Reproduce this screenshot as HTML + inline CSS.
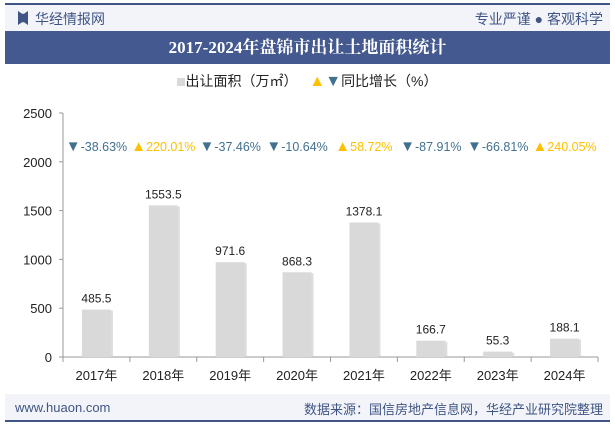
<!DOCTYPE html>
<html><head><meta charset="utf-8"><style>
body{margin:0;width:615px;height:427px;background:#fff;font-family:"Liberation Sans","Noto Sans CJK SC",sans-serif;overflow:hidden;position:relative}
.abs{position:absolute}
</style></head><body>
<div class="abs" style="left:5px;top:3px;width:605px;height:2px;background:#3f5585"></div>
<div class="abs" style="left:5px;top:5px;width:605px;height:26px;background:#f2f4f9"></div>
<div class="abs" style="left:18px;top:11px;width:10px;height:14px;background:#3f5585;clip-path:polygon(0 0,40% 20%,60% 20%,100% 0,100% 100%,60% 80%,40% 80%,0 100%)"></div>
<div class="abs" style="left:35px;top:9px;font-size:14px;color:#3f5585">华经情报网</div>
<div class="abs" style="right:12px;top:9px;font-size:14px;color:#3f5585">专业严谨 ● 客观科学</div>
<div class="abs" style="left:5px;top:31px;width:605px;height:33px;background:#44598f;color:#fff;font-family:'Liberation Serif','Noto Serif CJK SC',serif;font-weight:bold;font-size:17px;text-align:center;line-height:33px">2017-2024年盘锦市出让土地面积统计</div>
<div class="abs" style="left:0;width:615px;top:71px;text-align:center;font-size:14px;color:#222">
<span><span style="display:inline-block;width:8px;height:8px;background:#d9d9d9"></span>出让面积（万㎡）</span>
<span style="margin-left:8px"><span style="color:#ffc000;font-size:16px">▲</span><span style="color:#41718f;font-size:16px">▼</span>同比增长（%）</span></div>
<svg class="abs" style="left:0;top:0" width="615" height="427" id="chart"></svg>
<div class="abs" style="left:5px;top:394px;width:605px;height:26px;background:#f2f4f9"></div>
<div class="abs" style="left:15px;top:400px;font-size:13px;color:#3f5585">www.huaon.com</div>
<div class="abs" style="right:12px;top:399px;font-size:13px;color:#3f5585">数据来源：国信房地产信息网，华经产业研究院整理</div>
<div class="abs" style="left:5px;top:420px;width:605px;height:2px;background:#3f5585"></div>
<script>
const categories=["2017年","2018年","2019年","2020年","2021年","2022年","2023年","2024年"];
const areaValues=[485.5,1553.5,971.6,868.3,1378.1,166.7,55.3,188.1];
const growthValues=[-38.63,220.01,-37.46,-10.64,58.72,-87.91,-66.81,240.05];
const yTicks=[0,500,1000,1500,2000,2500];
const NS="http://www.w3.org/2000/svg";
const svg=document.getElementById('chart');
const x0=63,x1=598,y0=357,yTop=113,yMax=2500;
const band=(x1-x0)/categories.length;
const y=v=>y0-(v/yMax)*(y0-yTop);
const xc=i=>x0+band*(i+0.5);
function mk(t,a,txt){const e=document.createElementNS(NS,t);for(const k in a)e.setAttribute(k,a[k]);if(txt!=null)e.textContent=txt;svg.appendChild(e);return e;}
let ax=mk('line',{x1:x0,y1:yTop,x2:x0,y2:y0,stroke:'#999'});


let bx=mk('line',{x1:x0,y1:y0,x2:x1,y2:y0,stroke:'#999'});


yTicks.forEach(t=>{
 mk('line',{x1:x0-4,y1:y(t),x2:x0,y2:y(t),stroke:'#999'});
 const l=mk('text',{x:x0-11,y:y(t)+5,'text-anchor':'end','font-size':13,fill:'#222'},t);
 
 
});
categories.forEach((c,i)=>{
 mk('line',{x1:x0+band*i,y1:y0,x2:x0+band*i,y2:y0+5,stroke:'#999'});
 const bw=29,bxp=xc(i)-bw/2;
 mk('rect',{x:bxp+2,y:y(areaValues[i])+1,width:bw,height:y0-y(areaValues[i])-1,fill:'#c8c8c8',opacity:0.6});
 const r=mk('rect',{x:bxp,y:y(areaValues[i]),width:bw,height:y0-y(areaValues[i]),fill:'#d9d9d9'});
 
 
 const v=mk('text',{x:xc(i),y:y(areaValues[i])-7,'text-anchor':'middle','font-size':12,fill:'#222'},areaValues[i].toFixed(1));
 
 
 const xl=mk('text',{x:xc(i),y:380,'text-anchor':'middle','font-size':13,fill:'#222'},c);
 
 
 const g=growthValues[i],up=g>=0;
 const gl=mk('text',{x:xc(i),y:151,'text-anchor':'middle','font-size':12.5,fill:up?'#ffc000':'#41718f'});
 const tri=document.createElementNS(NS,'tspan');tri.setAttribute('font-size','15');tri.textContent=up?'▲':'▼';gl.appendChild(tri);
 const tv=document.createElementNS(NS,'tspan');tv.textContent=g.toFixed(2)+'%';gl.appendChild(tv);
 
 
});
mk('line',{x1:x1,y1:y0,x2:x1,y2:y0+5,stroke:'#999'});
</script>
</body></html>
